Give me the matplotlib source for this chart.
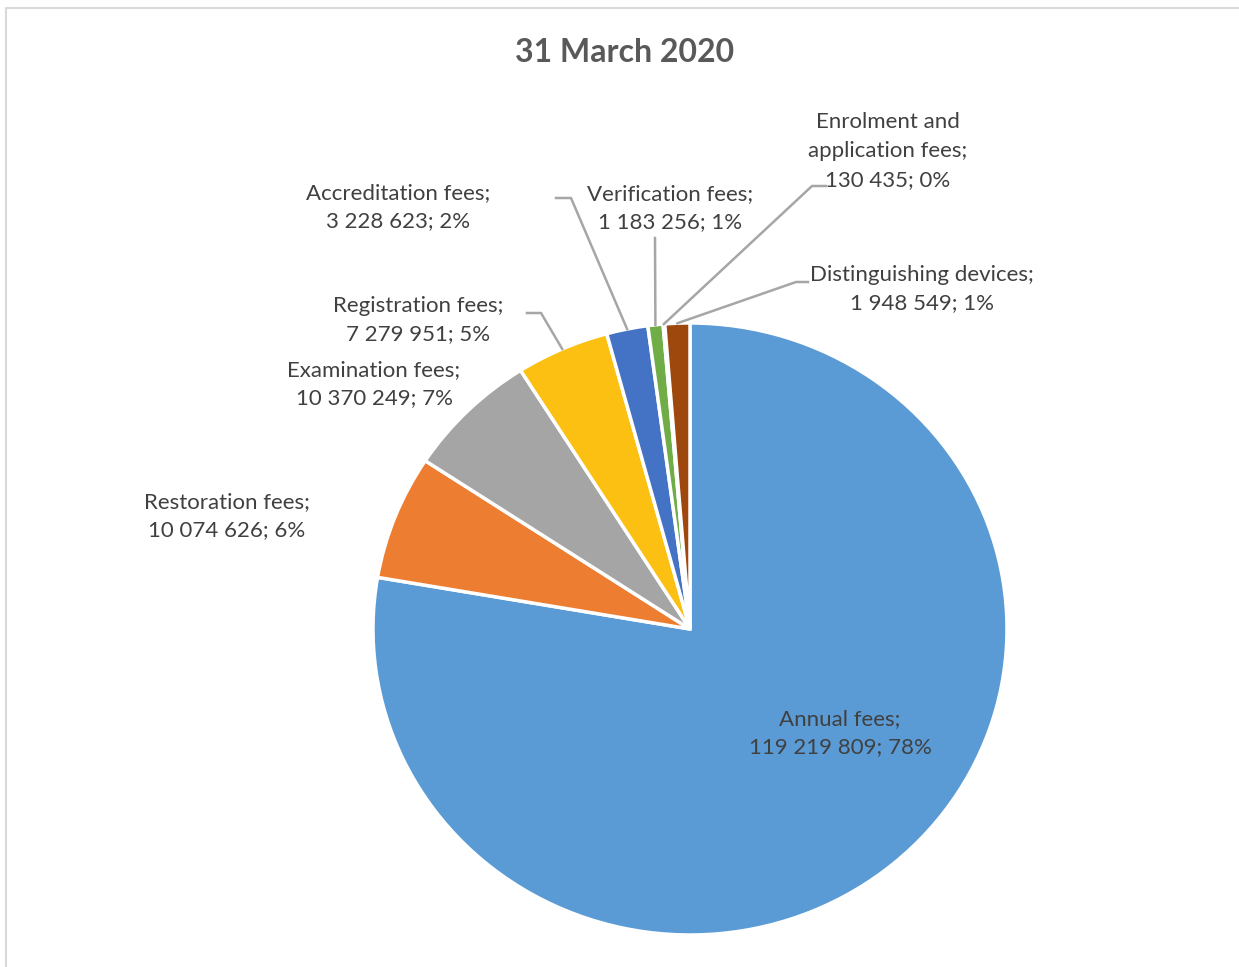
import numpy as np
import matplotlib.pyplot as plt

plt.rcParams['font.family'] = ['Lato', 'DejaVu Sans']

# Fee categories and amounts (31 March 2020)
names = ['Annual fees', 'Restoration fees', 'Examination fees', 'Registration fees',
         'Accreditation fees', 'Verification fees', 'Enrolment and\napplication fees',
         'Distinguishing devices']
amounts = [119219809, 10074626, 10370249, 7279951, 3228623, 1183256, 130435, 1948549]
pct_labels = ['78%', '6%', '7%', '5%', '2%', '1%', '0%', '1%']
colors = ['#5B9BD5', '#ED7D31', '#A5A5A5', '#FBC012', '#4472C4', '#70AD47', '#255E91', '#9E480E']

W, H = 1239, 967
cx, cy, rx, ry = 690, 629, 317, 306

fig = plt.figure(figsize=(W / 100, H / 100), dpi=100)
# light frame of the chart area
frame = fig.add_axes([0, 0, 1, 1])
frame.set_xlim(0, W)
frame.set_ylim(H, 0)
frame.axis('off')
frame.plot([6, 6, W + 5], [H + 5, 8, 8], color='#D9D9D9', lw=1.5)

ax = fig.add_axes([(cx - rx) / W, (H - cy - ry) / H, 2 * rx / W, 2 * ry / H])
wedges, _ = ax.pie(amounts, colors=colors, startangle=90, counterclock=False,
                   wedgeprops=dict(edgecolor='white', linewidth=2.5), radius=1)
ax.set_xlim(-1, 1)
ax.set_ylim(-1, 1)
ax.set_aspect('auto')
ax.axis('off')

def fmt(v):
    return '{:,}'.format(v).replace(',', ' ')

def to_ax(px, py):
    return (px - cx) / rx, (cy - py) / ry

# label centre (pixels) and optional leader elbow (pixels)
lab_pos = [(840, 733), (227, 516), (374, 384), (418, 320),
           (398, 207), (670, 208), (888, 151), (922, 289)]
elbows = [None, None, None, [(527, 313), (541, 313)],
          [(556, 198), (571, 198)], [(655, 238), (655, 238)],
          [(826, 186), (812, 186)], [(808, 282), (796, 282)]]

txt = '#404040'
for i, w in enumerate(wedges):
    label = '{};\n{}; {}'.format(names[i], fmt(amounts[i]), pct_labels[i])
    lx, ly = to_ax(*lab_pos[i])
    ax.text(lx, ly, label, ha='center', va='center', fontsize=16, color=txt,
            linespacing=1.55)
    if elbows[i] is not None:
        ang = np.deg2rad((w.theta1 + w.theta2) / 2)
        ex, ey = np.cos(ang), np.sin(ang)
        pts = [to_ax(*p) for p in elbows[i]] + [(ex, ey)]
        xs, ys = zip(*pts)
        ax.plot(xs, ys, color='#A6A6A6', lw=1.8, clip_on=False)

fig.text(625 / W, 1 - 53 / H, '31 March 2020', ha='center', va='center',
         fontsize=23, fontweight='bold', color='#595959')

plt.savefig('out.png', dpi=100)
